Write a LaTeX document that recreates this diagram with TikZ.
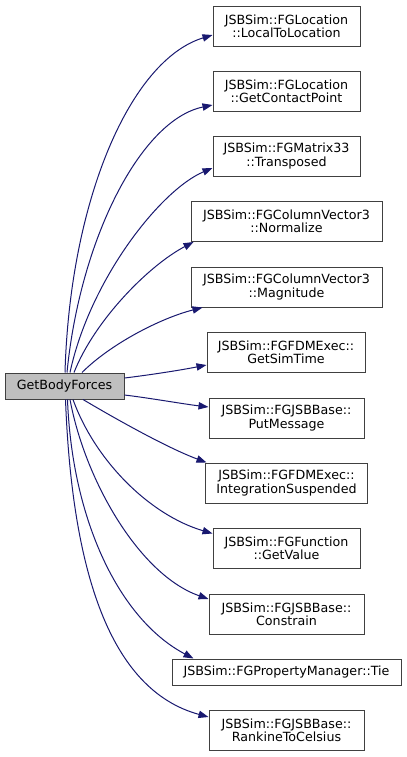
\documentclass[tikz,border=0pt]{standalone}
\usepackage{fontspec}
\setmainfont{DejaVu Sans}
\usetikzlibrary{arrows.meta}
\definecolor{edgeblue}{HTML}{191970}
\definecolor{boxgray}{HTML}{404040}
\definecolor{mainfill}{HTML}{BFBFBF}
\begin{document}
\begin{tikzpicture}[x=0.75pt,y=-0.75pt,
  fnbox/.style={draw=boxgray, line width=0.75pt, fill=white, inner sep=0pt, align=center,
    font=\fontsize{9.5}{10}\selectfont, minimum height=30pt},
  onebox/.style={fnbox, minimum height=19.5pt},
  call/.style={draw=edgeblue, line width=0.75pt, -{Triangle[length=7.5pt,width=5.5pt]}}]
\fill[white] (0,0) rectangle (407,757);
\useasboundingbox (0,0) rectangle (407,757);

\node[onebox, fill=mainfill, minimum width=89.25pt] (main) at (64.5,386) {GetBodyForces};

\node[fnbox, minimum width=110.25pt] (b1) at (286.5,26) {JSBSim::FGLocation\\::LocalToLocation};
\node[fnbox, minimum width=110.25pt] (b2) at (286.5,91) {JSBSim::FGLocation\\::GetContactPoint};
\node[fnbox, minimum width=110.25pt] (b3) at (286.5,156) {JSBSim::FGMatrix33\\::Transposed};
\node[fnbox, minimum width=143.25pt] (b4) at (286.5,221.5) {JSBSim::FGColumnVector3\\::Normalize};
\node[fnbox, minimum width=143.25pt] (b5) at (286.5,287) {JSBSim::FGColumnVector3\\::Magnitude};
\node[fnbox, minimum width=118.5pt] (b6) at (286,352.5) {JSBSim::FGFDMExec::\\GetSimTime};
\node[fnbox, minimum width=116.25pt] (b7) at (286.5,418) {JSBSim::FGJSBBase::\\PutMessage};
\node[fnbox, minimum width=121.5pt] (b8) at (286.5,483) {JSBSim::FGFDMExec::\\IntegrationSuspended};
\node[fnbox, minimum width=110.25pt] (b9) at (286.5,548.5) {JSBSim::FGFunction\\::GetValue};
\node[fnbox, minimum width=116.25pt] (b10) at (286.5,614) {JSBSim::FGJSBBase::\\Constrain};
\node[onebox, minimum width=171.75pt] (b11) at (286.5,672) {JSBSim::FGPropertyManager::Tie};
\node[fnbox, minimum width=116.25pt] (b12) at (286.5,730) {JSBSim::FGJSBBase::\\RankineToCelsius};

\draw[call] ([shift={(0.5,0)}]main.north) .. controls +(5,-173) and +(-82,25) .. ([shift={(0,9)}]b1.west);
\draw[call] ([shift={(2.5,0)}]main.north) .. controls +(13,-133) and +(-72,15) .. ([shift={(0,14)}]b2.west);
\draw[call] ([shift={(5.5,0)}]main.north) .. controls +(20,-93) and +(-52,22) .. ([shift={(0,12)}]b3.west);
\draw[call] ([shift={(9.5,0)}]main.north) .. controls +(21,-53) and +(-44,23) .. ([shift={(3,0)}]b4.south west);
\draw[call] ([shift={(17.5,0)}]main.north) .. controls +(28,-28) and +(-43,11) .. ([shift={(12,0)}]b5.south west);
\draw[call] ([shift={(0,-8)}]main.east) .. controls +(25,-3) and +(-25,5) .. ([shift={(0,12.5)}]b6.west);
\draw[call] ([shift={(0,9)}]main.east) .. controls +(25,3) and +(-25,-3) .. ([shift={(0,-11)}]b7.west);
\draw[call] ([shift={(18.5,0)}]main.south) .. controls +(32,19) and +(-40,-15) .. ([shift={(1.5,0)}]b8.north west);
\draw[call] ([shift={(8.5,0)}]main.south) .. controls +(22,61) and +(-63,-18.5) .. ([shift={(0,-15)}]b9.west);
\draw[call] ([shift={(5.5,0)}]main.south) .. controls +(15,81) and +(-69,-24) .. ([shift={(0,-15)}]b10.west);
\draw[call] ([shift={(3,0)}]main.south) .. controls +(4.5,121) and +(-74,-39) .. ([shift={(22,0)}]b11.north west);
\draw[call] ([shift={(1,0)}]main.south) .. controls +(6.5,171) and +(-99,-27) .. ([shift={(0,-13)}]b12.west);
\end{tikzpicture}
\end{document}
